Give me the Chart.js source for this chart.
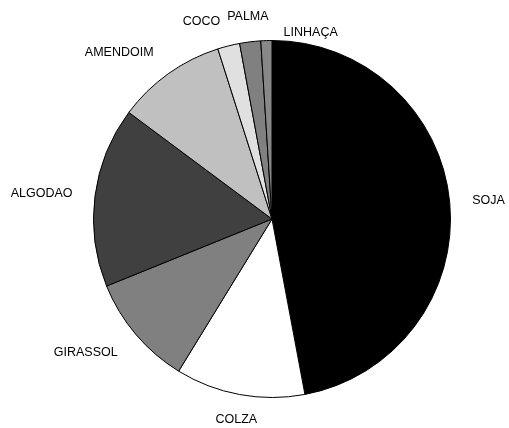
<!DOCTYPE html>
<html>
<head>
<meta charset="utf-8">
<script src="https://cdn.jsdelivr.net/npm/chart.js@4/dist/chart.umd.min.js"></script>
<style>
  html, body { margin: 0; padding: 0; background: #fff; }
  #wrap { width: 509px; height: 428px; position: relative; }
</style>
</head>
<body>
<div id="wrap"><canvas id="pie"></canvas></div>
<script>
// Slices, clockwise from 12 o'clock (share in %)
const labels = ['SOJA', 'COLZA', 'GIRASSOL', 'ALGODAO', 'AMENDOIM', 'COCO', 'PALMA', 'LINHAÇA'];
const values = [47.0, 11.7, 10.1, 16.3, 9.9, 2.0, 1.9, 1.0];
const fills = ['#000000', '#ffffff', '#808080', '#404040', '#c0c0c0', '#e0e0e0', '#808080', '#888888'];

// Category names outside the pie: the text box hangs off an anchor point
// just beyond the rim; a label that hits its neighbour slides sideways.
const outsideLabels = {
    id: 'outsideLabels',
    afterDatasetsDraw(chart) {
        const ctx = chart.ctx;
        const arcs = chart.getDatasetMeta(0).data;
        const gap = 18.5, padX = 4, halfH = 6.5;
        ctx.save();
        ctx.font = '12.5px "Liberation Sans", Arial, sans-serif';

        const placed = [];
        arcs.forEach((arc, i) => {
            const p = arc.getProps(['x', 'y', 'startAngle', 'endAngle', 'outerRadius'], true);
            const a = (p.startAngle + p.endAngle) / 2;
            const dx = Math.cos(a), dy = Math.sin(a);
            const R = p.outerRadius;
            const ax = p.x + dx * (R + gap), ay = p.y + dy * (R + gap);
            const halfW = ctx.measureText(labels[i]).width / 2;

            let x = ax, y = ay;
            if (dx > 0.2) x = ax + padX + halfW;
            else if (dx < -0.2) x = ax - padX - halfW;
            if (dy > 0.2) y = ay + halfH;
            else if (dy < -0.2) y = ay - halfH;

            const prev = placed[placed.length - 1];
            if (prev && Math.abs(prev.y - y) < halfH * 2 &&
                Math.abs(prev.x - x) < prev.halfW + halfW) {
                // push clear of the previous label, then tuck it against the rim
                const top = ay < p.y;
                x = top ? prev.x + prev.halfW + 15 + halfW : prev.x - prev.halfW - 15 - halfW;
                const near = Math.min(Math.max(p.x, x - halfW), x + halfW);
                const h = Math.sqrt(Math.max(R * R - (near - p.x) ** 2, 0));
                y = top ? p.y - h - 1.5 - halfH : p.y + h + 1.5 + halfH;
            }
            placed.push({ text: labels[i], x: x, y: y, halfW: halfW });
        });

        ctx.fillStyle = '#000';
        ctx.textAlign = 'center';
        ctx.textBaseline = 'middle';
        placed.forEach(it => ctx.fillText(it.text, it.x, it.y));
        ctx.restore();
    }
};

new Chart(document.getElementById('pie'), {
    type: 'pie',
    data: {
        labels: labels,
        datasets: [{
            data: values,
            backgroundColor: fills,
            borderColor: '#000',
            borderWidth: 1
        }]
    },
    options: {
        responsive: true,
        maintainAspectRatio: false,
        animation: false,
        layout: {
            padding: { top: 40, bottom: 30, left: 93, right: 58 }
        },
        plugins: {
            legend: { display: false },
            tooltip: { enabled: false }
        }
    },
    plugins: [outsideLabels]
});
</script>
</body>
</html>
